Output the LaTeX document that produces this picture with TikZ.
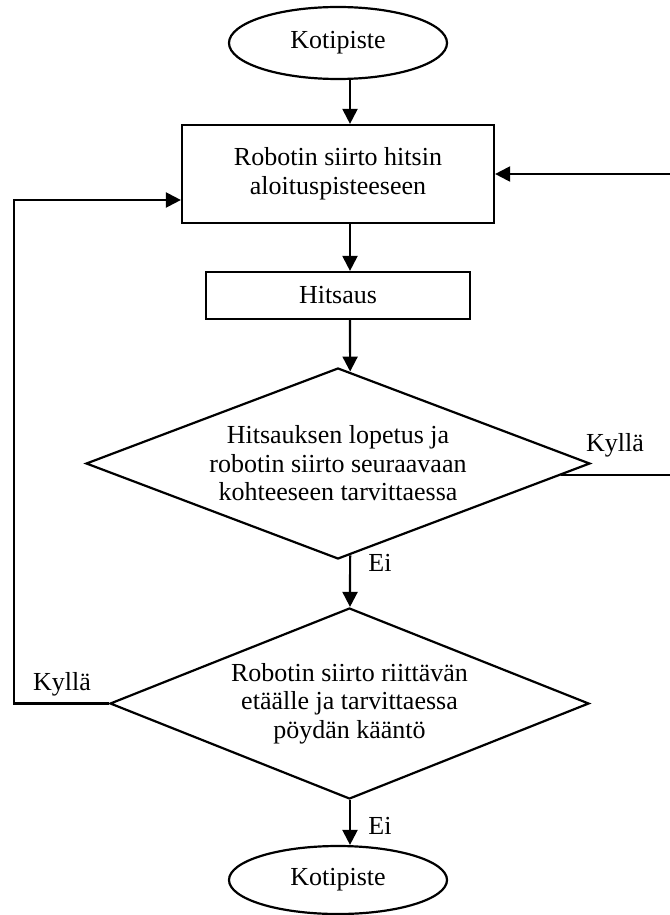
\documentclass[tikz,border=0pt]{standalone}
\usepackage{fontspec}
\setmainfont{Liberation Serif}
\usetikzlibrary{calc}
\usetikzlibrary{positioning}
\usetikzlibrary{shapes}
\usetikzlibrary{arrows.meta}

\begin{document}
\begin{tikzpicture}[x=0.5pt, y=-0.5pt, line width=1.1pt]
    \tikzset{
        every node/.style={font=\fontsize{13}{14.3}\selectfont},
        terminal/.style={draw, ellipse, minimum width=109pt, minimum height=36pt, inner sep=0pt},
        process/.style={draw, rectangle, align=center, inner sep=0pt},
        decision/.style={draw, diamond, aspect=2.5, align=center, inner sep=0pt, minimum height=95.5pt},
        flow/.style={-{Triangle[length=7.5pt,width=7.5pt]}}
    }

    \useasboundingbox (0,0) rectangle (669,915);

    % column of the vertical connectors, and the two loop lines
    \coordinate (col) at (350,0);
    \coordinate (rightx) at (673,0);
    \coordinate (leftx) at (14,0);

    % draw the steps
    \node[terminal] (start) at (338,43) {Kotipiste};
    \node[process, minimum width=156pt, minimum height=49pt] (move) at (338,174) {Robotin siirto hitsin\\aloituspisteeseen};
    \node[process, minimum width=132pt, minimum height=23.5pt] (weld) at (338,295.5) {Hitsaus};
    \node[decision, minimum width=252pt] (finish) at (338,463.5) {Hitsauksen lopetus ja\\robotin siirto seuraavaan\\kohteeseen tarvittaessa};
    \node[decision, minimum width=239.5pt] (clear) at (349.5,703.5) {Robotin siirto riittävän\\etäälle ja tarvittaessa\\pöydän kääntö};
    \node[terminal, minimum height=34pt] (stop) at (338,880) {Kotipiste};

    % draw main flow
    \draw[flow] (start.south -| col) -- (move.north -| col);
    \draw[flow] (move.south -| col) -- (weld.north -| col);
    \draw[flow] (weld.south -| col) -- ($(finish.north)!0.048!(finish.east)$);
    \draw[flow] ($(finish.south)!0.048!(finish.east)$) -- (clear.north -| col);
    \draw[flow] (clear.south -| col) -- (stop.north -| col);

    % draw loops back to the start point of the weld
    \coordinate (yesout) at ($(finish.east)!0.12!(finish.south)$);
    \draw[flow] (yesout) -- (yesout -| rightx) |- (move.east);
    \draw[flow] (clear.west) -- (clear.west -| leftx) |- ([yshift=-13pt]move.west);

    % answers
    \node (yes1) at (615,445) {Kyllä};
    \node (no1) at (380,563) {Ei};
    \node (yes2) at (62,684.5) {Kyllä};
    \node (no2) at (380,826) {Ei};
\end{tikzpicture}
\end{document}
